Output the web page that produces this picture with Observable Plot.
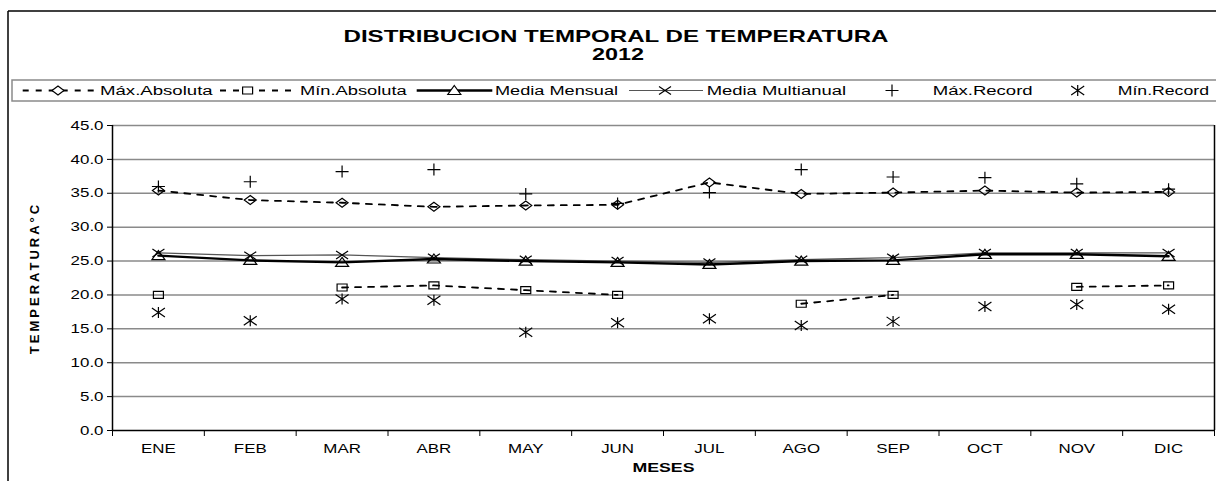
<!DOCTYPE html>
<html><head><meta charset="utf-8">
<script src="https://cdn.jsdelivr.net/npm/d3@7"></script>
<script src="https://cdn.jsdelivr.net/npm/@observablehq/plot@0.6"></script>
<style>
html,body{margin:0;padding:0;background:#fff;}
#wrap{position:relative;width:1216px;height:481px;overflow:hidden;font-family:"Liberation Sans",Arial,sans-serif;}
#head{position:absolute;left:0;top:0;}
#chart{position:absolute;left:0;top:105px;}
#frame{position:absolute;left:0;top:0;pointer-events:none;}
</style></head><body>
<div id="wrap">
<svg id="head" width="1216" height="105"></svg>
<div id="chart"></div>
<svg id="frame" width="1216" height="481"></svg>
</div>
<script>
// ---- data ----
const months = ["ENE","FEB","MAR","ABR","MAY","JUN","JUL","AGO","SEP","OCT","NOV","DIC"];
const maxAbsoluta = [35.4,34.0,33.6,33.0,33.2,33.3,36.6,34.9,35.1,35.4,35.1,35.2];
const minAbsoluta = [20.0,null,21.1,21.4,20.7,20.0,null,18.7,20.0,null,21.2,21.4];
const mediaMensual = [25.8,25.1,24.8,25.3,25.0,24.8,24.5,25.0,25.1,26.0,26.0,25.7];
const mediaMultianual = [26.2,25.8,25.9,25.5,25.2,25.0,24.8,25.2,25.5,26.2,26.2,26.2];
const maxRecord = [36.0,36.7,38.2,38.5,34.9,33.5,35.1,38.5,37.4,37.3,36.4,35.6];
const minRecord = [17.4,16.2,19.4,19.2,14.5,15.9,16.5,15.5,16.1,18.3,18.6,17.9];
const yTicks = [0,5,10,15,20,25,30,35,40,45];
const seriesNames = ["Máx.Absoluta","Mín.Absoluta","Media Mensual","Media Multianual","Máx.Record","Mín.Record"];
const titleText = "DISTRIBUCION TEMPORAL DE TEMPERATURA";
const subtitleText = "2012";

// ---- custom (horizontally wide) symbols ----
const symDiamond = {draw(c){c.moveTo(-6,0);c.lineTo(0,-4.5);c.lineTo(6,0);c.lineTo(0,4.5);c.closePath();}};
const symSquare = {draw(c){c.rect(-5,-3.5,10,7);}};
const symTriangle = {draw(c){c.moveTo(0,-5);c.lineTo(6.5,4);c.lineTo(-6.5,4);c.closePath();}};
const symTimes = {draw(c){c.moveTo(-6,-4);c.lineTo(6,4);c.moveTo(-6,4);c.lineTo(6,-4);}};
const symPlus = {draw(c){c.moveTo(-6.5,0);c.lineTo(6.5,0);c.moveTo(0,-6);c.lineTo(0,6);}};
const symAsterisk = {draw(c){c.moveTo(-6.5,-4.5);c.lineTo(6.5,4.5);c.moveTo(-6.5,4.5);c.lineTo(6.5,-4.5);c.moveTo(0,-5.5);c.lineTo(0,5.5);}};

const X = (d, i) => i + 0.5;
const Y = d => d;
const dash = "6,7";

const chart = Plot.plot({
  width: 1216, height: 376,
  marginLeft: 112, marginRight: 2, marginTop: 20, marginBottom: 51,
  style: {background: "transparent", fontFamily: "Liberation Sans, Arial, sans-serif", fontSize: "13px", color: "black"},
  x: {type: "linear", domain: [0, 12], axis: null},
  y: {domain: [0, 45], axis: null},
  marks: [
    Plot.ruleY(yTicks.filter(t => t > 0), {stroke: "#8a8a8a", strokeWidth: 1.5}),
    Plot.axisY({ticks: yTicks, tickFormat: d3.format(".1f"), tickSize: 5, tickPadding: 4, fontSize: 13,
      label: "TEMPERATURA°C", labelAnchor: "center", labelArrow: "none", labelOffset: 83}),
    Plot.axisX({ticks: d3.range(13), tickFormat: () => "", tickSize: 6, label: null}),
    Plot.axisX({ticks: d3.range(12).map(i => i + 0.5), tickFormat: v => months[Math.floor(v)], tickSize: 0, tickPadding: 13, fontSize: 13,
      label: "MESES", labelAnchor: "center", labelArrow: "none", labelOffset: 41}),
    Plot.ruleX([0], {stroke: "black", strokeWidth: 1.5}),
    Plot.ruleX([12], {stroke: "black", strokeWidth: 1.5}),
    Plot.ruleY([0], {stroke: "black", strokeWidth: 1.5}),
    Plot.line(mediaMultianual, {x: X, y: Y, stroke: "#555", strokeWidth: 1.2}),
    Plot.line(mediaMensual, {x: X, y: Y, stroke: "black", strokeWidth: 2.4}),
    Plot.line(maxAbsoluta, {x: X, y: Y, stroke: "black", strokeWidth: 1.8, strokeDasharray: dash}),
    Plot.line(minAbsoluta, {x: X, y: Y, stroke: "black", strokeWidth: 1.8, strokeDasharray: dash}),
    Plot.dot(maxAbsoluta, {x: X, y: Y, symbol: symDiamond, r: 5, fill: "none", stroke: "black", strokeWidth: 1.2}),
    Plot.dot(minAbsoluta, {x: X, y: Y, symbol: symSquare, r: 5, fill: "none", stroke: "black", strokeWidth: 1.2}),
    Plot.dot(mediaMensual, {x: X, y: Y, symbol: symTriangle, r: 5, fill: "none", stroke: "black", strokeWidth: 1.2}),
    Plot.dot(mediaMultianual, {x: X, y: Y, symbol: symTimes, r: 5, fill: "none", stroke: "black", strokeWidth: 1.2}),
    Plot.dot(maxRecord, {x: X, y: Y, symbol: symPlus, r: 5, fill: "none", stroke: "black", strokeWidth: 1.2}),
    Plot.dot(minRecord, {x: X, y: Y, symbol: symAsterisk, r: 5, fill: "none", stroke: "black", strokeWidth: 1.2})
  ]
});
document.getElementById("chart").appendChild(chart);

// style axis labels
const cs = d3.select(chart);
cs.selectAll('[aria-label="y-axis label"] text')
  .style("font-weight", "bold").style("font-size", "13px").style("letter-spacing", "3px");
cs.selectAll('[aria-label="x-axis label"] text')
  .style("font-weight", "bold").style("font-size", "13px")
  .attr("textLength", 62).attr("lengthAdjust", "spacingAndGlyphs");
// widen tick labels slightly like the reference
cs.selectAll('[aria-label="y-axis tick label"] text, [aria-label="x-axis tick label"] text').each(function() {
  const L = this.getComputedTextLength();
  if (L > 0) { this.setAttribute("textLength", (L * 1.3).toFixed(1)); this.setAttribute("lengthAdjust", "spacingAndGlyphs"); }
});

// ---- header: title + legend ----
const head = d3.select("#head");
head.append("text").attr("x", 616).attr("y", 42).attr("text-anchor", "middle")
  .attr("font-weight", "bold").attr("font-size", 17).attr("textLength", 545).attr("lengthAdjust", "spacingAndGlyphs")
  .text(titleText);
head.append("text").attr("x", 618).attr("y", 60).attr("text-anchor", "middle")
  .attr("font-weight", "bold").attr("font-size", 17).attr("textLength", 52).attr("lengthAdjust", "spacingAndGlyphs")
  .text(subtitleText);
head.append("rect").attr("x", 12).attr("y", 80).attr("width", 1220).attr("height", 21)
  .attr("fill", "none").attr("stroke", "#8a8a8a").attr("stroke-width", 1.5);

const legendSymbols = [symDiamond, symSquare, symTriangle, symTimes, symPlus, symAsterisk];
const legendLayout = [
  {x0: 22.7, x1: 96.7, w: 1.8, dash: dash, mx: 58, tx: 100, tw: 112.7},
  {x0: 220, x1: 298, w: 1.8, dash: dash, mx: 247.6, tx: 300, tw: 106.7},
  {x0: 416.7, x1: 492.3, w: 2.4, mx: 454.3, tx: 495, tw: 123},
  {x0: 629, x1: 703, w: 1.2, stroke: "#555", mx: 665, tx: 706.7, tw: 139.3},
  {mx: 892, tx: 932.7, tw: 100},
  {mx: 1077.7, tx: 1117.7, tw: 91.3}
];
const ly = 90.5;
seriesNames.forEach((name, i) => {
  const L = legendLayout[i];
  if (L.x0 != null) {
    head.append("line").attr("x1", L.x0).attr("x2", L.x1).attr("y1", ly).attr("y2", ly)
      .attr("stroke", L.stroke || "black").attr("stroke-width", L.w).attr("stroke-dasharray", L.dash || null);
  }
  const p = d3.path(); legendSymbols[i].draw(p, 78);
  head.append("path").attr("d", p.toString()).attr("transform", `translate(${L.mx},${ly})`)
    .attr("fill", L.x0 != null ? "white" : "none").attr("stroke", "black").attr("stroke-width", 1.2);
  head.append("text").attr("x", L.tx).attr("y", ly + 4.5).attr("font-size", 12.5)
    .attr("textLength", L.tw).attr("lengthAdjust", "spacingAndGlyphs").text(name);
});

// ---- outer frame ----
const fr = d3.select("#frame");
fr.append("line").attr("x1", 8).attr("x2", 1216).attr("y1", 11).attr("y2", 11).attr("stroke", "black").attr("stroke-width", 1.5);
fr.append("line").attr("x1", 8).attr("x2", 8).attr("y1", 11).attr("y2", 481).attr("stroke", "black").attr("stroke-width", 1.5);
</script>
</body></html>
